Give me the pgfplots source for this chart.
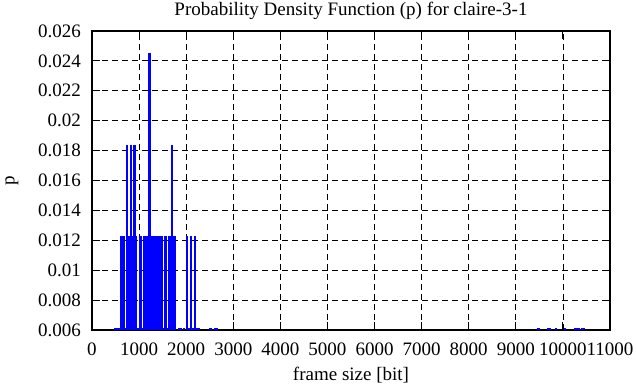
\documentclass[border=0pt]{standalone}
\usepackage{pgfplots}
\pgfplotsset{compat=1.18}
\usepackage{fontspec}
\setmainfont{Liberation Serif}
\pgfplotstableread{
x p
500 0.006135
540 0.006135
580 0.006135
615 0.01227
645 0.01227
675 0.01227
705 0.006135
743 0.01840
780 0.01227
828 0.01840
860 0.01227
903 0.01840
940 0.01227
970 0.006135
1015 0.01227
1045 0.01227
1080 0.006135
1115 0.01227
1145 0.01227
1175 0.01227
1221 0.02454
1260 0.01227
1300 0.01227
1330 0.01227
1360 0.01227
1390 0.01227
1420 0.006135
1455 0.01227
1485 0.01227
1515 0.006135
1545 0.01227
1575 0.01227
1605 0.006135
1640 0.01227
1665 0.01227
1699 0.01840
1735 0.01227
1760 0.01227
1860 0.006135
1890 0.006135
1960 0.006135
2010 0.01227
2050 0.006135
2100 0.01227
2140 0.006135
2180 0.01227
2220 0.006135
2260 0.006135
2500 0.006135
2520 0.006135
2620 0.006135
2650 0.006135
9480 0.006135
9680 0.006135
9730 0.006135
9860 0.006135
10040 0.006135
10250 0.006135
10300 0.006135
10350 0.006135
10400 0.006135
10450 0.006135
}\pdfdata
\begin{document}
\begin{tikzpicture}
\useasboundingbox (-92bp,-57bp) rectangle (544bp,330bp);
\begin{axis}[
  at={(0,0)}, anchor=south west,
  scale only axis,
  width=518bp, height=299bp,
  xmin=0, xmax=11000, ymin=0.006, ymax=0.026,
  scaled ticks=false,
  xtick={0,1000,...,11000},
  xticklabels={0,1000,2000,3000,4000,5000,6000,7000,8000,9000,10000,11000},
  ytick={0.006,0.008,...,0.0261},
  yticklabels={0.006,0.008,0.01,0.012,0.014,0.016,0.018,0.02,0.022,0.024,0.026},
  /pgf/number format/assume math mode=true,
  tick align=inside,
  major tick length=8bp,
  tick style={black, line width=1bp},
  axis line style={line width=1.6bp},
  grid=major,
  major grid style={black, dashed, line width=0.8bp, dash pattern=on 6bp off 4bp},
  ticklabel style={font=\fontsize{19bp}{21bp}\selectfont, inner sep=0pt},
  xticklabel style={anchor=center, yshift=-19.5bp},
  yticklabel style={anchor=east, xshift=-11bp},
  title={Probability Density Function (p) for claire-3-1},
  title style={font=\fontsize{19bp}{21bp}\selectfont, at={(axis description cs:0.5,1)}, anchor=center, yshift=14bp},
  xlabel={frame size [bit]},
  ylabel={p},
  label style={font=\fontsize{19bp}{21bp}\selectfont},
  xlabel style={at={(axis description cs:0.5,0)}, anchor=center, yshift=-45bp},
  ylabel style={at={(axis description cs:-0.1544,0.5)}, anchor=center, rotate=0},
]
\addplot[ycomb, color={rgb,255:red,0;green,0;blue,255}, line width=2.2bp, mark=none] table[x=x,y=p] {\pdfdata};
\end{axis}
\end{tikzpicture}
\end{document}
